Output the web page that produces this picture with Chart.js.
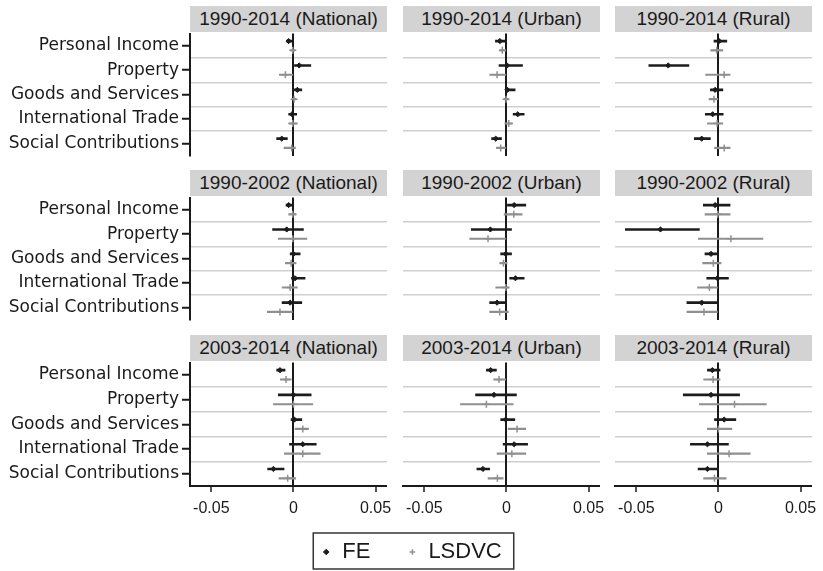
<!DOCTYPE html>
<html>
<head>
<meta charset="utf-8">
<script src="https://cdn.jsdelivr.net/npm/chart.js@4.4.1/dist/chart.umd.min.js"></script>
<style>
  html, body { margin: 0; padding: 0; background: #fff; }
  #fig { position: relative; width: 823px; height: 571px; overflow: hidden; background: #fff; }
  .strip { position: absolute; background: #d3d3d3; color: #1a1a1a; text-align: center;
           font-family: 'Liberation Sans', Arial, sans-serif; font-size: 19px; }
  canvas { position: absolute; }
</style>
</head>
<body>
<div id="fig"></div>
<script>
// ---------------- data ----------------
const categories = ['Personal Income', 'Property', 'Goods and Services', 'International Trade', 'Social Contributions'];
const periods = ['1990-2014', '1990-2002', '2003-2014'];
const regions = ['National', 'Urban', 'Rural'];
const seriesNames = ['FE', 'LSDVC'];
const xTickValues = [-0.05, 0, 0.05];
const xTickLabels = ['-0.05', '0', '0.05'];

// each row: [lower bound, estimate, upper bound], one per category
const fe_9014_nat = [[-0.0041, -0.0029, 0.0], [0.0, 0.0035, 0.0106], [0.0, 0.0024, 0.0051], [-0.0029, -0.0008, 0.0020], [-0.0102, -0.0071, -0.0037]];
const ls_9014_nat = [[-0.0016, -0.0004, 0.0008], [-0.0086, -0.0049, -0.0004], [-0.0008, 0.0004, 0.0016], [-0.0029, -0.0004, 0.0024], [-0.0057, -0.0010, 0.0012]];
const fe_9014_urb = [[-0.0067, -0.0040, -0.0004], [-0.0045, 0.0004, 0.0098], [0.0, 0.0006, 0.0053], [0.0041, 0.0069, 0.0108], [-0.0090, -0.0065, -0.0030]];
const ls_9014_urb = [[-0.0040, -0.0025, -0.0004], [-0.0102, -0.0057, -0.0004], [-0.0014, -0.0002, 0.0012], [-0.0010, 0.0014, 0.0037], [-0.0061, -0.0035, -0.0004]];
const fe_9014_rur = [[-0.0027, 0.0004, 0.0051], [-0.0424, -0.0306, -0.0180], [-0.0049, -0.0020, 0.0027], [-0.0080, -0.0035, 0.0029], [-0.0147, -0.0102, -0.0049]];
const ls_9014_rur = [[-0.0047, -0.0010, 0.0027], [-0.0078, 0.0035, 0.0071], [-0.0057, -0.0027, -0.0004], [-0.0067, -0.0008, 0.0027], [-0.0024, 0.0035, 0.0071]];

const fe_9002_nat = [[-0.0045, -0.0029, 0.0], [-0.0127, -0.0041, 0.0061], [-0.0020, 0.0, 0.0041], [-0.0012, 0.0010, 0.0071], [-0.0069, -0.0020, 0.0051]];
const ls_9002_nat = [[-0.0029, -0.0004, 0.0016], [-0.0092, -0.0004, 0.0082], [-0.0049, -0.0014, 0.0016], [-0.0069, -0.0020, 0.0024], [-0.0159, -0.0082, 0.0]];
const fe_9002_urb = [[0.0, 0.0047, 0.0118], [-0.0214, -0.0098, 0.0031], [-0.0035, -0.0004, 0.0031], [0.0020, 0.0055, 0.0108], [-0.0102, -0.0057, 0.0]];
const ls_9002_urb = [[-0.0014, 0.0045, 0.0096], [-0.0224, -0.0112, -0.0004], [-0.0041, -0.0018, 0.0004], [-0.0065, -0.0004, 0.0016], [-0.0102, -0.0041, 0.0012]];
const fe_9002_rur = [[-0.0092, -0.0020, 0.0071], [-0.0567, -0.0353, -0.0116], [-0.0082, -0.0045, -0.0004], [-0.0071, -0.0006, 0.0061], [-0.0192, -0.0102, 0.0]];
const ls_9002_rur = [[-0.0082, -0.0004, 0.0071], [-0.0122, 0.0076, 0.0271], [-0.0096, -0.0031, 0.0016], [-0.0127, -0.0055, 0.0], [-0.0192, -0.0088, 0.0]];

const fe_0314_nat = [[-0.0102, -0.0082, -0.0051], [-0.0092, 0.0, 0.0108], [-0.0014, 0.0006, 0.0051], [-0.0024, 0.0057, 0.0139], [-0.0157, -0.0122, -0.0057]];
const ls_0314_nat = [[-0.0080, -0.0045, -0.0014], [-0.0122, 0.0, 0.0118], [0.0010, 0.0057, 0.0092], [-0.0055, 0.0057, 0.0163], [-0.0088, -0.0035, 0.0014]];
const fe_0314_urb = [[-0.0122, -0.0096, -0.0061], [-0.0188, -0.0076, 0.0061], [-0.0035, -0.0004, 0.0051], [-0.0020, 0.0047, 0.0129], [-0.0180, -0.0143, -0.0102]];
const ls_0314_urb = [[-0.0078, -0.0045, -0.0004], [-0.0280, -0.0122, 0.0041], [0.0010, 0.0065, 0.0118], [-0.0057, 0.0033, 0.0118], [-0.0112, -0.0055, -0.0020]];
const fe_0314_rur = [[-0.0067, -0.0037, 0.0010], [-0.0214, -0.0045, 0.0129], [-0.0024, 0.0035, 0.0106], [-0.0171, -0.0067, 0.0061], [-0.0124, -0.0067, -0.0004]];
const ls_0314_rur = [[-0.0090, -0.0033, 0.0010], [-0.0116, 0.0098, 0.0292], [-0.0067, 0.0, 0.0082], [-0.0067, 0.0065, 0.0194], [-0.0090, -0.0024, 0.0047]];

const panelSeries = [
  [[fe_9014_nat, ls_9014_nat], [fe_9014_urb, ls_9014_urb], [fe_9014_rur, ls_9014_rur]],
  [[fe_9002_nat, ls_9002_nat], [fe_9002_urb, ls_9002_urb], [fe_9002_rur, ls_9002_rur]],
  [[fe_0314_nat, ls_0314_nat], [fe_0314_urb, ls_0314_urb], [fe_0314_rur, ls_0314_rur]]
];

// ---------------- layout / style ----------------
const COL_LEFT = [190, 403, 615];
const ROW_TOP = [32, 196, 361];
const PLOT_W = 197, PLOT_H = 125, STRIP_H = 26;
const X_MIN = -0.063, X_MAX = 0.057;
const OFF = 0.19;
const FE_COLOR = '#1c1c1c', LS_COLOR = '#8f8f8f', INK = '#1a1a1a';

const fig = document.getElementById('fig');

// y tick positions: band boundaries and category centres
const yTickValues = [];
for (let i = 0; i <= categories.length; i++) {
  yTickValues.push(i - 0.5);
  if (i < categories.length) yTickValues.push(i);
}
const isCenter = v => Number.isInteger(v);
const isInnerBoundary = v => !Number.isInteger(v) && v > -0.5 && v < categories.length - 0.5;

function makePanel(r, c) {
  const [fe, ls] = panelSeries[r][c];
  const plotL = COL_LEFT[c], plotT = ROW_TOP[r];

  const strip = document.createElement('div');
  strip.className = 'strip';
  strip.style.left = plotL + 'px';
  strip.style.top = (plotT - STRIP_H) + 'px';
  strip.style.width = PLOT_W + 'px';
  strip.style.height = STRIP_H + 'px';
  strip.style.lineHeight = STRIP_H + 'px';
  strip.textContent = periods[r] + ' (' + regions[c] + ')';
  fig.appendChild(strip);

  const padL = c === 0 ? 0 : 24, padR = 26, padT = 4, padB = 4;
  const axisH = r === 2 ? 36 : 0;
  const yW = c === 0 ? plotL : 0;
  const w = (c === 0 ? plotL : padL) + PLOT_W + padR;
  const h = padT + PLOT_H + axisH + padB;
  const cv = document.createElement('canvas');
  cv.width = w; cv.height = h;
  cv.style.left = (c === 0 ? 0 : plotL - padL) + 'px';
  cv.style.top = (plotT - padT) + 'px';
  cv.style.width = w + 'px';
  cv.style.height = h + 'px';
  fig.appendChild(cv);

  new Chart(cv, {
    type: 'bar',
    data: {
      datasets: [
        { type: 'scatter', label: seriesNames[0], order: 0,
          data: fe.map((d, i) => ({ x: d[1], y: i - OFF })),
          pointStyle: 'rectRot', pointRadius: 2.6, backgroundColor: FE_COLOR, borderColor: FE_COLOR, borderWidth: 1 },
        { type: 'scatter', label: seriesNames[1], order: 0,
          data: ls.map((d, i) => ({ x: d[1], y: i + OFF })),
          pointStyle: 'cross', pointRadius: 3.5, backgroundColor: LS_COLOR, borderColor: LS_COLOR, borderWidth: 1.5 },
        { type: 'bar', label: seriesNames[0] + ' CI', order: 1, grouped: false, barThickness: 2,
          data: fe.map((d, i) => ({ x: [d[0], d[2]], y: i - OFF })),
          backgroundColor: FE_COLOR, borderWidth: 0 },
        { type: 'bar', label: seriesNames[1] + ' CI', order: 1, grouped: false, barThickness: 1.5,
          data: ls.map((d, i) => ({ x: [d[0], d[2]], y: i + OFF })),
          backgroundColor: LS_COLOR, borderWidth: 0 }
      ]
    },
    options: {
      indexAxis: 'y',
      responsive: false,
      animation: false,
      events: [],
      layout: { padding: { left: c === 0 ? 0 : padL, right: padR, top: padT, bottom: padB } },
      plugins: { legend: { display: false }, tooltip: { enabled: false } },
      scales: {
        y: {
          type: 'linear', reverse: true, min: -0.5, max: categories.length - 0.5, offset: false,
          afterBuildTicks: s => { s.ticks = yTickValues.map(v => ({ value: v })); },
          afterFit: s => { s.width = yW; s.paddingTop = 0; s.paddingBottom = 0; },
          ticks: {
            display: c === 0, autoSkip: false, padding: 3, color: INK,
            font: { family: 'DejaVu Sans', size: 17 },
            callback: v => isCenter(v) ? categories[v] : ''
          },
          grid: {
            offset: false, drawTicks: c === 0, tickLength: 8, lineWidth: 1.5, tickWidth: 2,
            color: ctx => (ctx.tick && isInnerBoundary(ctx.tick.value)) ? '#cfcfcf' : 'rgba(0,0,0,0)',
            tickColor: ctx => (ctx.tick && isCenter(ctx.tick.value)) ? INK : 'rgba(0,0,0,0)'
          },
          border: { display: c === 0, color: INK, width: 2 }
        },
        x: {
          type: 'linear', min: X_MIN, max: X_MAX, beginAtZero: false, offset: false,
          afterBuildTicks: s => { s.ticks = xTickValues.map(v => ({ value: v })); },
          afterFit: s => { s.height = axisH; s.paddingLeft = 0; s.paddingRight = 0; },
          ticks: {
            display: r === 2, autoSkip: false, maxRotation: 0, padding: 7, color: INK,
            font: { family: 'Liberation Sans', size: 16 },
            callback: v => xTickLabels[xTickValues.indexOf(v)]
          },
          grid: {
            offset: false, drawTicks: r === 2, tickLength: 6, tickWidth: 1.5, tickColor: INK,
            lineWidth: ctx => (ctx.tick && ctx.tick.value === 0) ? 2 : 0,
            color: ctx => (ctx.tick && ctx.tick.value === 0) ? INK : 'rgba(0,0,0,0)'
          },
          border: { display: r === 2, color: INK, width: 2 }
        }
      }
    }
  });
}

for (let r = 0; r < periods.length; r++) {
  for (let c = 0; c < regions.length; c++) makePanel(r, c);
}

// ---------------- legend ----------------
const legendBox = {
  id: 'legendBox',
  afterDraw(chart) {
    const hb = chart.legend && chart.legend.legendHitBoxes;
    if (!hb || !hb.length) return;
    const last = hb[hb.length - 1];
    const left = hb[0].left - 8, right = last.left + last.width + 12;
    const top = hb[0].top - 8, bottom = hb[0].top + hb[0].height + 6;
    const ctx = chart.ctx;
    ctx.save();
    ctx.strokeStyle = '#333';
    ctx.lineWidth = 1.5;
    ctx.strokeRect(left, top, right - left, bottom - top);
    ctx.restore();
  }
};
const lc = document.createElement('canvas');
lc.width = 823; lc.height = 170;
lc.style.left = '0px'; lc.style.top = '504px';
lc.style.width = '823px'; lc.style.height = '170px';
fig.appendChild(lc);
new Chart(lc, {
  type: 'scatter',
  data: {
    datasets: [
      { label: seriesNames[0], data: [], pointStyle: 'rectRot', backgroundColor: FE_COLOR, borderColor: FE_COLOR, borderWidth: 1 },
      { label: seriesNames[1], data: [], pointStyle: 'cross', backgroundColor: LS_COLOR, borderColor: LS_COLOR, borderWidth: 1.5 }
    ]
  },
  options: {
    responsive: false, animation: false, events: [],
    layout: { padding: 0 },
    scales: { x: { display: false }, y: { display: false } },
    plugins: {
      tooltip: { enabled: false },
      legend: {
        display: true, position: 'top',
        labels: { usePointStyle: true, boxWidth: 10, boxHeight: 4, padding: 37, color: INK,
                  font: { family: 'Liberation Sans', size: 22 } }
      }
    }
  },
  plugins: [legendBox]
});
</script>
</body>
</html>
